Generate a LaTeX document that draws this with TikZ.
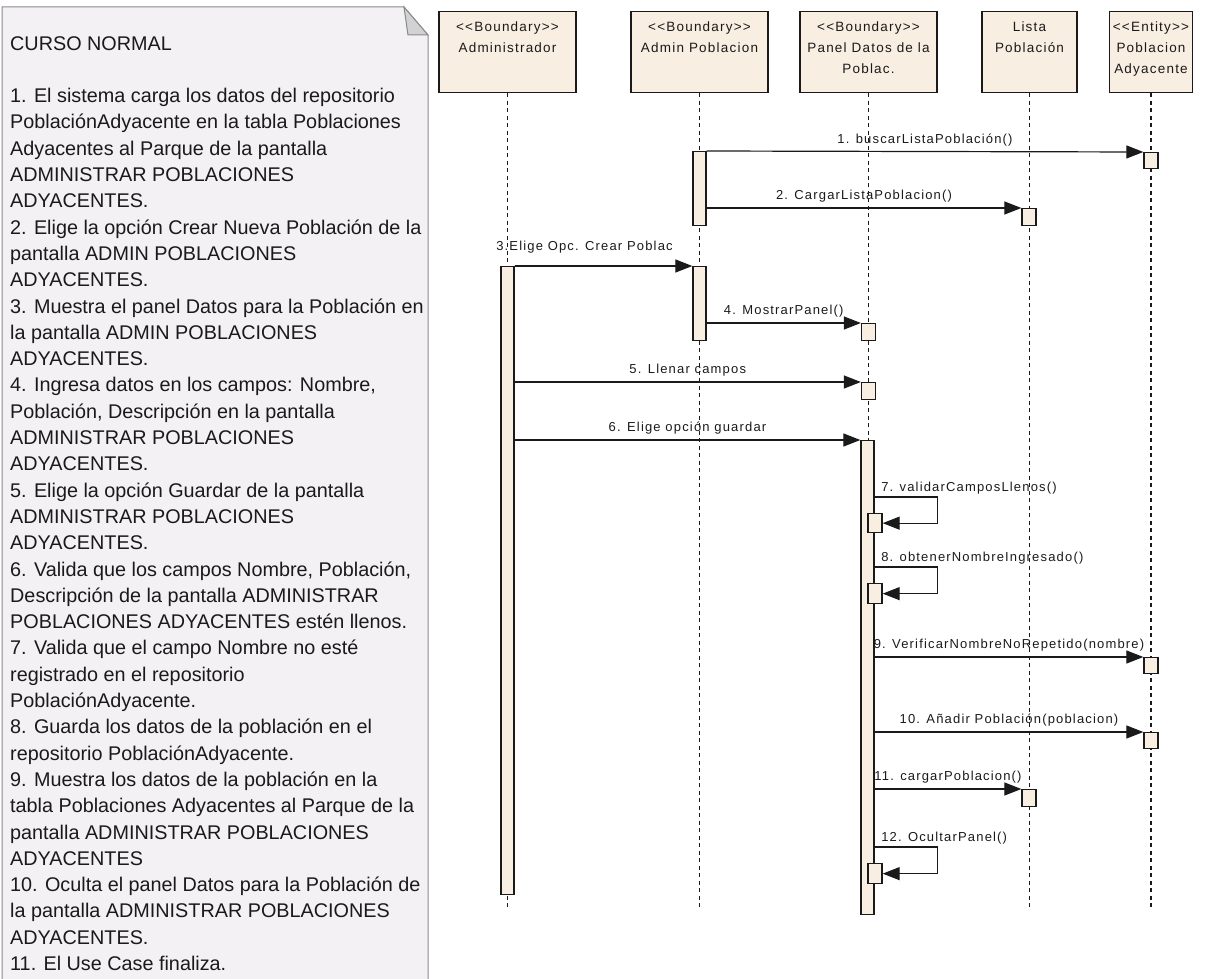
\documentclass[tikz,border=0pt]{standalone}
\usepackage{fontspec}
\usepackage{xcolor}
\usepackage{tikz}
\usetikzlibrary{arrows.meta,positioning,calc}
\setmainfont{Liberation Sans}
\newfontfamily\notefont{Liberation Sans}
\newfontfamily\umlfont[LetterSpace=9]{Liberation Sans}
\definecolor{UmlBeige}{HTML}{F8EEE2}
\definecolor{UmlInk}{HTML}{1A1A1A}
\definecolor{NotePaper}{HTML}{F3F1F4}
\definecolor{NoteFold}{HTML}{D2D2D4}
\definecolor{NoteEdge}{HTML}{8A8A8A}

\begin{document}
\begin{tikzpicture}[
  x=1pt, y=-1pt,
  head/.style={draw=UmlInk, fill=UmlBeige, line width=1.3pt, minimum height=81pt, inner sep=0, anchor=north},
  headtext/.style={font=\umlfont\fontsize{13.5}{21}\selectfont, align=center, inner sep=0, text=UmlInk},
  lifeline/.style={draw=UmlInk, line width=1.3pt, dash pattern=on 4pt off 3.5pt},
  actbar/.style={draw=UmlInk, fill=UmlBeige, line width=1.3pt, minimum width=13pt, inner sep=0, anchor=north},
  execbox/.style={draw=UmlInk, fill=UmlBeige, line width=1.3pt, minimum width=14pt, minimum height=17pt, inner sep=0, anchor=north},
  msg/.style={draw=UmlInk, line width=1.2pt, -{Triangle[length=17pt,width=13pt]}},
  msglabel/.style={font=\umlfont\fontsize{13}{15}\selectfont, inner sep=2pt, text=UmlInk}
]
\useasboundingbox (0,0) rectangle (1205,979);

% note with the use case steps
\draw[draw=NoteEdge, fill=NotePaper, line width=1pt] (2,7) -- (404,7) -- (428,35) -- (428,990) -- (2,990) -- cycle;
\draw[draw=NoteEdge, fill=NoteFold, line width=1pt] (404,7) -- (408,35) -- (428,35) -- cycle;
\node[anchor=north west, inner sep=0, align=left, text=UmlInk,
      font=\notefont\fontsize{19.8}{26.3}\selectfont] (noteText) at (10,36) {%
CURSO NORMAL\\[26.3pt]
1. El sistema carga los datos del repositorio\\
PoblaciónAdyacente en la tabla Poblaciones\\
Adyacentes al Parque de la pantalla\\
ADMINISTRAR POBLACIONES\\
ADYACENTES.\\
2. Elige la opción Crear Nueva Población de la\\
pantalla ADMIN POBLACIONES\\
ADYACENTES.\\
3. Muestra el panel Datos para la Población en\\
la pantalla ADMIN POBLACIONES\\
ADYACENTES.\\
4. Ingresa datos en los campos: Nombre,\\
Población, Descripción en la pantalla\\
ADMINISTRAR POBLACIONES\\
ADYACENTES.\\
5. Elige la opción Guardar de la pantalla\\
ADMINISTRAR POBLACIONES\\
ADYACENTES.\\
6. Valida que los campos Nombre, Población,\\
Descripción de la pantalla ADMINISTRAR\\
POBLACIONES ADYACENTES estén llenos.\\
7. Valida que el campo Nombre no esté\\
registrado en el repositorio\\
PoblaciónAdyacente.\\
8. Guarda los datos de la población en el\\
repositorio PoblaciónAdyacente.\\
9. Muestra los datos de la población en la\\
tabla Poblaciones Adyacentes al Parque de la\\
pantalla ADMINISTRAR POBLACIONES\\
ADYACENTES\\
10. Oculta el panel Datos para la Población de\\
la pantalla ADMINISTRAR POBLACIONES\\
ADYACENTES.\\
11. El Use Case finaliza.};

% objects
\node[head, minimum width=137pt] (admin) at (507.5,11) {};
\node[head, minimum width=137pt] (adminPob) at (699.5,11) {};
\node[head, minimum width=137pt] (panel) at (868.5,11) {};
\node[head, minimum width=95pt] (lista) at (1029.5,11) {};
\node[head, minimum width=83pt] (entity) at (1151,11) {};
\node[headtext, below=10.5pt of admin.north] (adminTxt) {<<Boundary>>\\Administrador};
\node[headtext, below=10.5pt of adminPob.north] (adminPobTxt) {<<Boundary>>\\Admin Poblacion};
\node[headtext, below=10.5pt of panel.north] (panelTxt) {<<Boundary>>\\Panel Datos de la\\Poblac.};
\node[headtext, below=10.5pt of lista.north] (listaTxt) {Lista\\Población};
\node[headtext, below=10.5pt of entity.north] (entityTxt) {<<Entity>>\\Poblacion\\Adyacente};

\foreach \n in {admin,adminPob,panel,lista,entity}
  \draw[lifeline] (\n.south) -- (\n.south |- 0,907);

% activations
\node[actbar, minimum height=74pt] (actPob1) at (699.5,151) {};
\node[actbar, minimum height=74pt] (actPob2) at (699.5,266) {};
\node[actbar, minimum height=628pt] (actAdm) at (507.5,266) {};
\node[actbar, minimum height=474pt] (actPan) at (867.5,440) {};

\node[execbox, minimum height=16pt] (ent1) at (1151,152) {};
\node[execbox] (lst1) at (1029,208) {};
\node[execbox] (pan1) at (868.5,323) {};
\node[execbox] (pan2) at (868.5,382) {};
\node[execbox, minimum height=19pt] (self7) at (875,513) {};
\node[execbox, minimum height=20pt] (self8) at (875,583) {};
\node[execbox, minimum height=16pt] (ent2) at (1151,657) {};
\node[execbox, minimum height=16pt] (ent3) at (1151,732) {};
\node[execbox] (lst2) at (1029,789) {};
\node[execbox, minimum height=20pt] (self12) at (875,863) {};

% messages
\draw[msg] (actPob1.north east) -- (ent1.north west)
  node[msglabel, midway, above=3pt] (m1) {1. buscarListaPoblación()};
\draw[msg] (actPob1.east |- lst1.north) -- (lst1.north west)
  node[msglabel, midway, above=3pt] (m2) {2. CargarListaPoblacion()};
\draw[msg] (actAdm.north east) -- (actPob2.north west)
  node[msglabel, pos=0, anchor=south west, xshift=-21pt, yshift=10pt] (m3) {3.Elige Opc. Crear Poblac};
\draw[msg] (actPob2.east |- pan1.north) -- (pan1.north west)
  node[msglabel, midway, above=3pt] (m4) {4. MostrarPanel()};
\draw[msg] (actAdm.east |- pan2.north) -- (pan2.north west)
  node[msglabel, midway, above=3pt] (m5) {5. Llenar campos};
\draw[msg] (actAdm.east |- actPan.north) -- (actPan.north west)
  node[msglabel, midway, above=3pt] (m6) {6. Elige opción guardar};
\draw[msg] ($(actPan.east |- self7.north)+(0,-16)$) -- ++(63,0)
  node[msglabel, pos=0, anchor=south west, xshift=4pt] (m7) {7. validarCamposLlenos()} |- (self7.east);
\draw[msg] ($(actPan.east |- self8.north)+(0,-16)$) -- ++(63,0)
  node[msglabel, pos=0, anchor=south west, xshift=4pt] (m8) {8. obtenerNombreIngresado()} |- (self8.east);
\draw[msg] (actPan.east |- ent2.north) -- (ent2.north west)
  node[msglabel, midway, above=3pt] (m9) {9. VerificarNombreNoRepetido(nombre)};
\draw[msg] (actPan.east |- ent3.north) -- (ent3.north west)
  node[msglabel, midway, above=3pt] (m10) {10. Añadir Población(poblacion)};
\draw[msg] (actPan.east |- lst2.north) -- (lst2.north west)
  node[msglabel, midway, above=3pt] (m11) {11. cargarPoblacion()};
\draw[msg] ($(actPan.east |- self12.north)+(0,-16)$) -- ++(63,0)
  node[msglabel, pos=0, anchor=south west, xshift=4pt] (m12) {12. OcultarPanel()} |- (self12.east);
\end{tikzpicture}
\end{document}
